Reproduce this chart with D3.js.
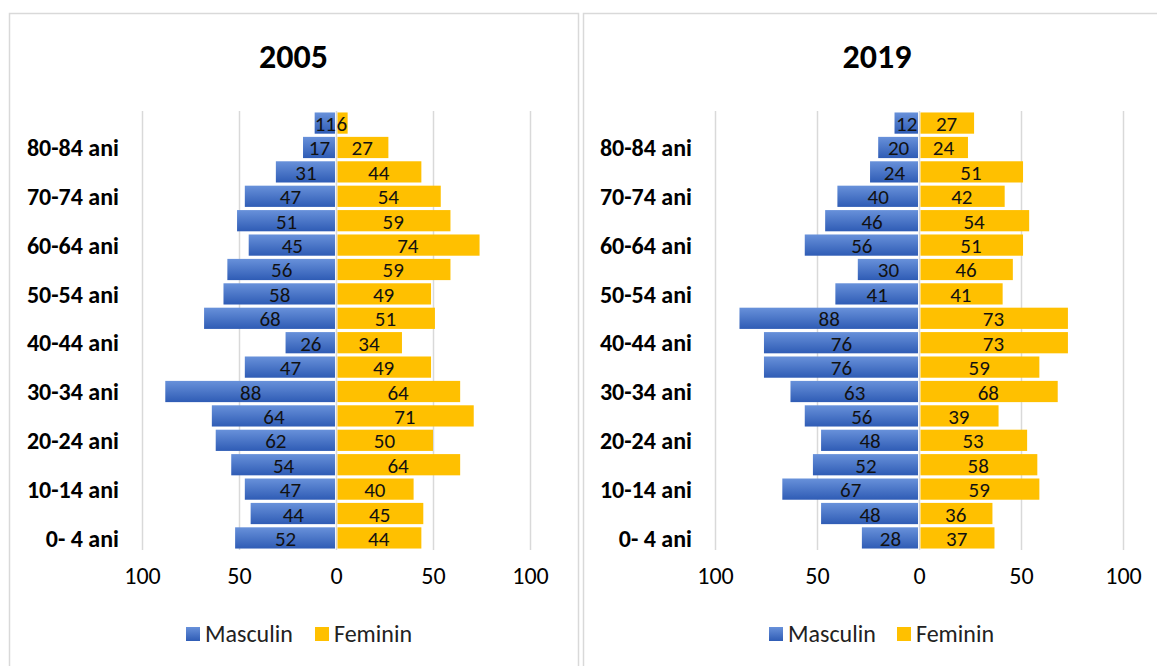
<!DOCTYPE html>
<html>
<head>
<meta charset="utf-8">
<script src="https://cdn.jsdelivr.net/npm/d3@7"></script>
<style>
  body { margin: 0; background: #fff; }
  text { font-family: Carlito, Calibri, Lato, sans-serif; }
</style>
</head>
<body>
<div id="chart"></div>
<script>
// Age groups, bottom to top
const ageGroups = ["0- 4 ani", "5- 9 ani", "10-14 ani", "15-19 ani", "20-24 ani", "25-29 ani",
  "30-34 ani", "35-39 ani", "40-44 ani", "45-49 ani", "50-54 ani", "55-59 ani",
  "60-64 ani", "65-69 ani", "70-74 ani", "75-79 ani", "80-84 ani", "85+ ani"];

const male2005   = [52, 44, 47, 54, 62, 64, 88, 47, 26, 68, 58, 56, 45, 51, 47, 31, 17, 11];
const female2005 = [44, 45, 40, 64, 50, 71, 64, 49, 34, 51, 49, 59, 74, 59, 54, 44, 27, 6];
const male2019   = [28, 48, 67, 52, 48, 56, 63, 76, 76, 88, 41, 30, 56, 46, 40, 24, 20, 12];
const female2019 = [37, 36, 59, 58, 53, 39, 68, 59, 73, 73, 41, 46, 51, 54, 42, 51, 24, 27];

const tickValues = [-100, -50, 0, 50, 100];
const seriesNames = ["Masculin", "Feminin"];

const W = 1157, H = 666;
const gold = "#FFC000";

const svg = d3.select("#chart").append("svg")
  .attr("width", W)
  .attr("height", H);

// gradient for the male bars
const grad = svg.append("defs").append("linearGradient")
  .attr("id", "blueGrad")
  .attr("x1", 0).attr("y1", 0).attr("x2", 0).attr("y2", 1);
grad.append("stop").attr("offset", "0%").attr("stop-color", "#6891da");
grad.append("stop").attr("offset", "100%").attr("stop-color", "#2f5cb5");

function drawPyramid(cfg, males, females) {
  const g = svg.append("g");

  // panel border
  g.append("rect")
    .attr("x", cfg.box[0] + 0.5).attr("y", 13.5)
    .attr("width", cfg.box[1] - cfg.box[0]).attr("height", 700)
    .attr("fill", "#fff")
    .attr("stroke", "#d9d9d9")
    .attr("stroke-width", 1.5);

  const x = d3.scaleLinear().domain([-100, 100]).range(cfg.xr);
  const y = d3.scaleBand().domain(ageGroups).range([550, 111]).paddingInner(0.13).paddingOuter(0.06);

  // title
  g.append("text")
    .attr("x", (cfg.box[0] + cfg.box[1]) / 2)
    .attr("y", 68)
    .attr("text-anchor", "middle")
    .attr("font-size", 34)
    .attr("font-weight", "bold")
    .attr("fill", "#000")
    .text(cfg.title);

  // gridlines
  g.selectAll(".grid")
    .data(tickValues)
    .enter()
    .append("line")
    .attr("x1", d => Math.round(x(d)) + 0.5)
    .attr("x2", d => Math.round(x(d)) + 0.5)
    .attr("y1", 111)
    .attr("y2", 550)
    .attr("stroke", "#d9d9d9")
    .attr("stroke-width", 1.5);

  const rows = ageGroups.map((a, i) => ({ age: a, m: males[i], f: females[i] }));

  // male bars
  g.selectAll(".mbar")
    .data(rows)
    .enter()
    .append("rect")
    .attr("x", d => x(-d.m))
    .attr("y", d => y(d.age))
    .attr("width", d => x(0) - 1 - x(-d.m))
    .attr("height", y.bandwidth())
    .attr("fill", "url(#blueGrad)");

  // female bars
  g.selectAll(".fbar")
    .data(rows)
    .enter()
    .append("rect")
    .attr("x", x(0) + 1.5)
    .attr("y", d => y(d.age))
    .attr("width", d => x(d.f) - x(0) - 1.5)
    .attr("height", y.bandwidth())
    .attr("fill", gold);

  // data labels
  g.selectAll(".mlab")
    .data(rows)
    .enter()
    .append("text")
    .attr("x", d => (x(-d.m) + x(0)) / 2)
    .attr("y", d => y(d.age) + y.bandwidth() / 2 + 8)
    .attr("text-anchor", "middle")
    .attr("font-size", 21)
    .attr("fill", "#111")
    .text(d => d.m);

  g.selectAll(".flab")
    .data(rows)
    .enter()
    .append("text")
    .attr("x", d => (x(d.f) + x(0)) / 2)
    .attr("y", d => y(d.age) + y.bandwidth() / 2 + 8)
    .attr("text-anchor", "middle")
    .attr("font-size", 21)
    .attr("fill", "#111")
    .text(d => d.f);

  // category axis, every second label
  const yAxis = d3.axisLeft(y)
    .tickValues(ageGroups.filter((a, i) => i % 2 === 0))
    .tickSize(0)
    .tickPadding(0);
  const ya = g.append("g")
    .attr("transform", "translate(" + cfg.labelRight + ",1)")
    .call(yAxis);
  ya.select(".domain").remove();
  ya.selectAll("text")
    .attr("font-size", 24)
    .attr("font-weight", "bold")
    .attr("fill", "#000")
    .attr("font-family", "Carlito, Calibri, Lato, sans-serif");

  // value axis
  const xAxis = d3.axisBottom(x)
    .tickValues(tickValues)
    .tickFormat(d => Math.abs(d))
    .tickSize(0)
    .tickPadding(0);
  const xa = g.append("g")
    .attr("transform", "translate(0,567)")
    .call(xAxis);
  xa.select(".domain").remove();
  xa.selectAll("text")
    .attr("font-size", 24)
    .attr("fill", "#000")
    .attr("font-family", "Carlito, Calibri, Lato, sans-serif");

  // legend
  const leg = g.append("g");
  const colors = ["url(#blueGrad)", gold];
  seriesNames.forEach((name, i) => {
    leg.append("rect")
      .attr("x", cfg.legend[i])
      .attr("y", 627)
      .attr("width", 14)
      .attr("height", 14)
      .attr("fill", colors[i]);
    leg.append("text")
      .attr("x", cfg.legend[i] + 19)
      .attr("y", 642)
      .attr("font-size", 24)
      .attr("fill", "#222")
      .text(name);
  });
}

drawPyramid({ title: "2005", box: [9, 578], xr: [142, 530], labelRight: 119, legend: [186, 315] },
  male2005, female2005);
drawPyramid({ title: "2019", box: [583, 1171], xr: [715, 1123], labelRight: 692, legend: [769, 897] },
  male2019, female2019);
</script>
</body>
</html>
